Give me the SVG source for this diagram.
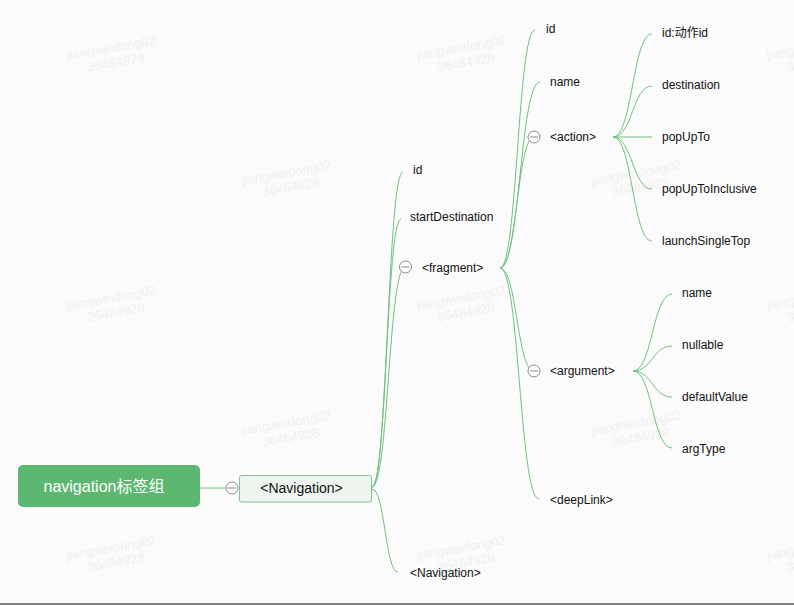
<svg xmlns="http://www.w3.org/2000/svg" width="794" height="605" viewBox="0 0 794 605">
<style>
.wm{font-family:"Liberation Sans",Arial,sans-serif;font-size:13px;fill:#efefef;text-anchor:middle}
.t{font-family:"Liberation Sans",Arial,"Noto Sans CJK SC",sans-serif;font-size:12px;fill:#111111}
.c{fill:none;stroke:#6fc27d;stroke-width:1}
.tog circle{fill:#ffffff;stroke:#8a8a8a;stroke-width:1}
.tog line{stroke:#8a8a8a;stroke-width:1}
</style>
<defs>
<g id="wmark"><text class="wm" x="0" y="0">jiangweidong02</text><text class="wm" x="2" y="15">36484928</text></g>
<g id="tg" class="tog"><circle cx="0" cy="0" r="6"/><line x1="-4" y1="0" x2="4" y2="0"/></g>
</defs>
<rect x="0" y="0" width="794" height="605" fill="#fbfbfb"/>
<g id="watermarks">
<use href="#wmark" transform="translate(112,52) rotate(-10)"/>
<use href="#wmark" transform="translate(462,52) rotate(-10)"/>
<use href="#wmark" transform="translate(812,52) rotate(-10)"/>
<use href="#wmark" transform="translate(287,177) rotate(-10)"/>
<use href="#wmark" transform="translate(637,177) rotate(-10)"/>
<use href="#wmark" transform="translate(112,302) rotate(-10)"/>
<use href="#wmark" transform="translate(462,302) rotate(-10)"/>
<use href="#wmark" transform="translate(812,302) rotate(-10)"/>
<use href="#wmark" transform="translate(287,427) rotate(-10)"/>
<use href="#wmark" transform="translate(637,427) rotate(-10)"/>
<use href="#wmark" transform="translate(112,552) rotate(-10)"/>
<use href="#wmark" transform="translate(462,552) rotate(-10)"/>
<use href="#wmark" transform="translate(812,552) rotate(-10)"/>
</g>
<g id="connectors">
<path class="c" d="M200,488 L226,488"/>
<path class="c" d="M372,487 C387.5,487 387.5,172 403,172"/>
<path class="c" d="M372,487 C386.5,487 386.5,219 401,219"/>
<path class="c" d="M372,487 C388.5,487 388.5,267 405,267"/>
<path class="c" d="M372,489 C385,489 385,572 398,572"/>
<path class="c" d="M500,268 C517.5,268 517.5,30 535,30"/>
<path class="c" d="M500,268 C520,268 520,82 540,82"/>
<path class="c" d="M500,268 C517,268 517,137 534,137"/>
<path class="c" d="M500,268 C517,268 517,371 534,371"/>
<path class="c" d="M500,268 C519.5,268 519.5,499 539,499"/>
<path class="c" d="M613,137 C632.5,137 632.5,34 652,34"/>
<path class="c" d="M613,137 C632.5,137 632.5,86 652,86"/>
<path class="c" d="M613,137 L652,137"/>
<path class="c" d="M613,137 C632.5,137 632.5,189 652,189"/>
<path class="c" d="M613,137 C632.5,137 632.5,241 652,241"/>
<path class="c" d="M633,371 C652.5,371 652.5,294 672,294"/>
<path class="c" d="M633,371 C652.5,371 652.5,346 672,346"/>
<path class="c" d="M633,371 C652.5,371 652.5,397 672,397"/>
<path class="c" d="M633,371 C652.5,371 652.5,448 672,448"/>
</g>
<g id="root">
<rect x="18" y="465" width="182" height="42" rx="5" fill="#5cb870"/>
<text x="104" y="491.5" text-anchor="middle" font-family="'Liberation Sans',Arial,'Noto Sans CJK SC',sans-serif" font-size="16" fill="#ffffff">navigation标签组</text>
</g>
<g id="navigation">
<use href="#tg" x="232" y="488"/>
<rect x="239.5" y="475.5" width="132" height="26.5" rx="2" fill="#edf5ee" stroke="#7cc48a"/>
<text x="301.5" y="493" text-anchor="middle" font-family="'Liberation Sans',Arial,sans-serif" font-size="14" fill="#111111">&lt;Navigation&gt;</text>
</g>
<g id="nav-id"><text class="t" x="413" y="174">id</text></g>
<g id="nav-startDestination"><text class="t" x="410" y="221">startDestination</text></g>
<g id="fragment"><use href="#tg" x="405.5" y="267"/><text class="t" x="422" y="272">&lt;fragment&gt;</text></g>
<g id="nav-navigation"><text class="t" x="410" y="577">&lt;Navigation&gt;</text></g>
<g id="frag-id"><text class="t" x="546" y="33">id</text></g>
<g id="frag-name"><text class="t" x="550" y="86">name</text></g>
<g id="action"><use href="#tg" x="534" y="137"/><text class="t" x="550" y="141">&lt;action&gt;</text></g>
<g id="argument"><use href="#tg" x="534" y="371"/><text class="t" x="550" y="375">&lt;argument&gt;</text></g>
<g id="deepLink"><text class="t" x="550" y="504">&lt;deepLink&gt;</text></g>
<g id="action-id"><text class="t" x="662" y="37">id:动作id</text></g>
<g id="action-destination"><text class="t" x="662" y="89">destination</text></g>
<g id="action-popUpTo"><text class="t" x="662" y="141">popUpTo</text></g>
<g id="action-popUpToInclusive"><text class="t" x="662" y="193">popUpToInclusive</text></g>
<g id="action-launchSingleTop"><text class="t" x="662" y="245">launchSingleTop</text></g>
<g id="arg-name"><text class="t" x="682" y="297">name</text></g>
<g id="arg-nullable"><text class="t" x="682" y="349">nullable</text></g>
<g id="arg-defaultValue"><text class="t" x="682" y="401">defaultValue</text></g>
<g id="arg-argType"><text class="t" x="682" y="453">argType</text></g>
<rect x="0" y="603" width="794" height="2" fill="#808080"/>
</svg>
